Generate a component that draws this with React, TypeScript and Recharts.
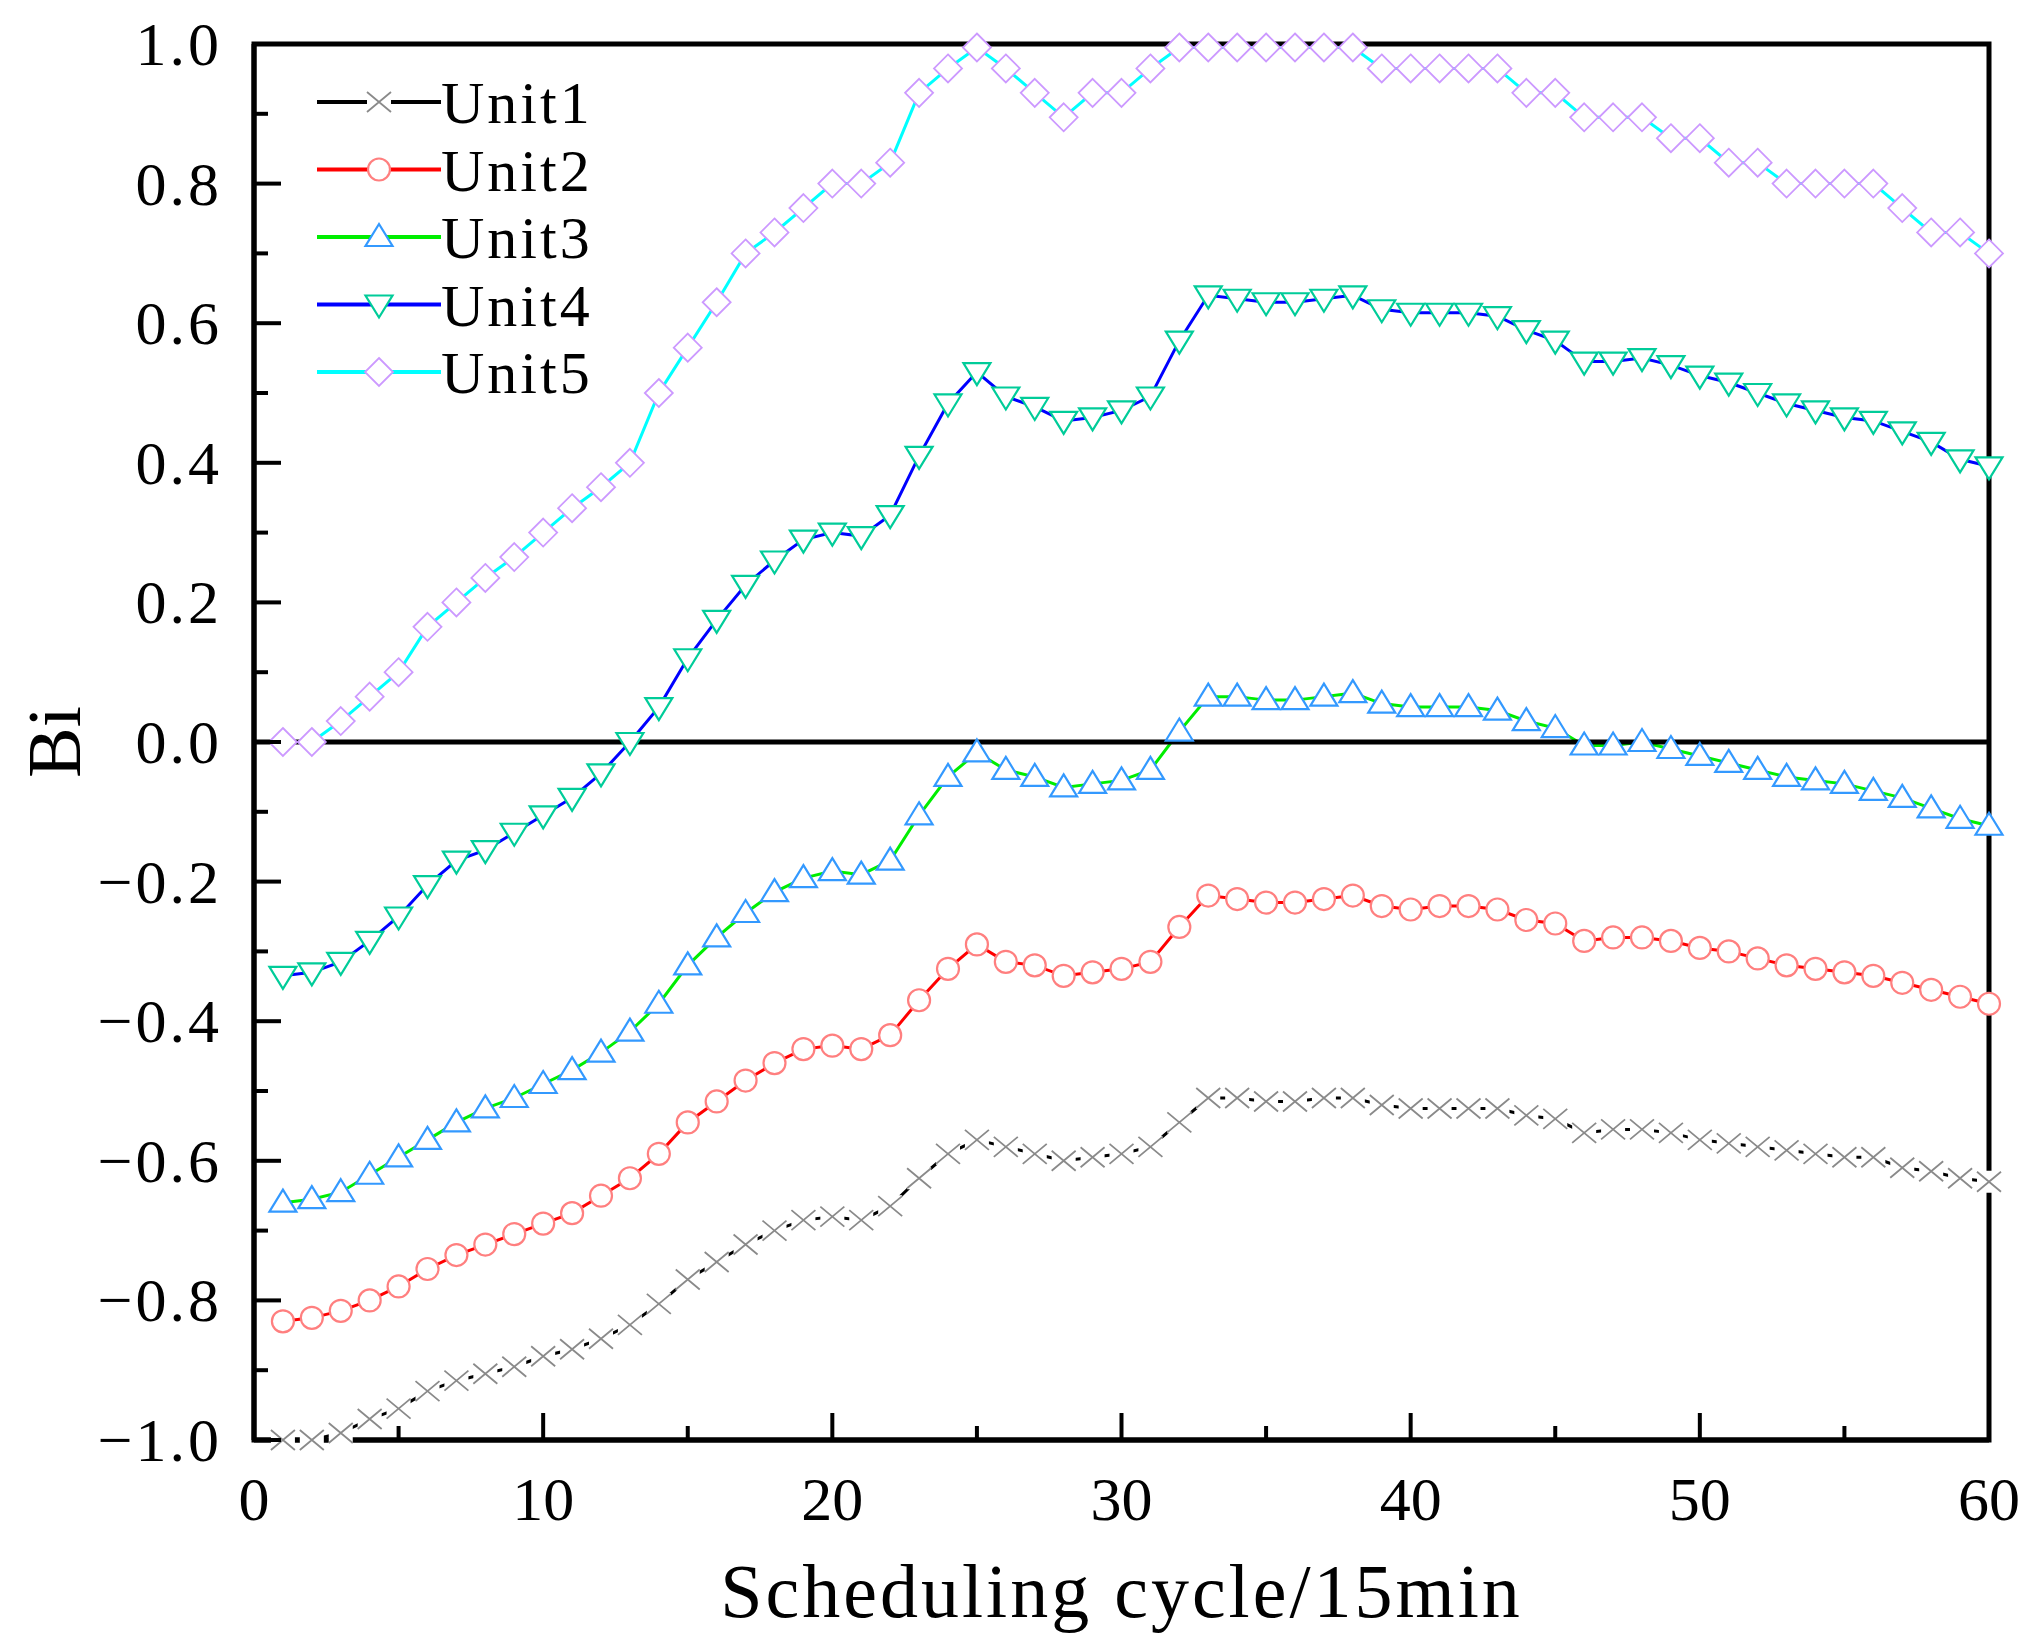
import React from 'react';
import { LineChart, Line, XAxis, YAxis, ReferenceLine, ReferenceArea, Legend, Label } from 'recharts';

const cycles = [1, 2, 3, 4, 5, 6, 7, 8, 9, 10, 11, 12, 13, 14, 15, 16, 17, 18, 19, 20, 21, 22, 23, 24, 25, 26, 27, 28, 29, 30, 31, 32, 33, 34, 35, 36, 37, 38, 39, 40, 41, 42, 43, 44, 45, 46, 47, 48, 49, 50, 51, 52, 53, 54, 55, 56, 57, 58, 59, 60];

const unit1 = [-1.0, -1.0, -0.99, -0.97, -0.955, -0.93, -0.915, -0.905, -0.895, -0.88, -0.87, -0.855, -0.835, -0.805, -0.77, -0.745, -0.72, -0.70, -0.685, -0.68, -0.685, -0.665, -0.625, -0.59, -0.57, -0.58, -0.59, -0.60, -0.595, -0.59, -0.58, -0.545, -0.51, -0.51, -0.515, -0.515, -0.51, -0.51, -0.52, -0.525, -0.525, -0.525, -0.525, -0.535, -0.54, -0.56, -0.555, -0.555, -0.56, -0.57, -0.575, -0.58, -0.585, -0.59, -0.595, -0.595, -0.61, -0.615, -0.625, -0.63];
const unit2 = [-0.83, -0.825, -0.815, -0.80, -0.78, -0.755, -0.735, -0.72, -0.705, -0.69, -0.675, -0.65, -0.625, -0.59, -0.545, -0.515, -0.485, -0.46, -0.44, -0.435, -0.44, -0.42, -0.37, -0.325, -0.29, -0.315, -0.32, -0.335, -0.33, -0.325, -0.315, -0.265, -0.22, -0.225, -0.23, -0.23, -0.225, -0.22, -0.235, -0.24, -0.235, -0.235, -0.24, -0.255, -0.26, -0.285, -0.28, -0.28, -0.285, -0.295, -0.30, -0.31, -0.32, -0.325, -0.33, -0.335, -0.345, -0.355, -0.365, -0.375];
const unit3 = [-0.66, -0.655, -0.645, -0.62, -0.595, -0.57, -0.545, -0.525, -0.51, -0.49, -0.47, -0.445, -0.415, -0.375, -0.32, -0.28, -0.245, -0.215, -0.195, -0.185, -0.19, -0.17, -0.105, -0.05, -0.015, -0.04, -0.05, -0.065, -0.06, -0.055, -0.04, 0.015, 0.065, 0.065, 0.06, 0.06, 0.065, 0.07, 0.055, 0.05, 0.05, 0.05, 0.045, 0.03, 0.02, -0.005, -0.005, 0.0, -0.01, -0.02, -0.03, -0.04, -0.05, -0.055, -0.06, -0.07, -0.08, -0.095, -0.11, -0.12];
const unit4 = [-0.335, -0.33, -0.315, -0.285, -0.25, -0.205, -0.17, -0.155, -0.13, -0.105, -0.08, -0.045, 0.0, 0.05, 0.12, 0.175, 0.225, 0.26, 0.29, 0.30, 0.295, 0.325, 0.41, 0.485, 0.53, 0.495, 0.48, 0.46, 0.465, 0.475, 0.495, 0.575, 0.64, 0.635, 0.63, 0.63, 0.635, 0.64, 0.62, 0.615, 0.615, 0.615, 0.61, 0.59, 0.575, 0.545, 0.545, 0.55, 0.54, 0.525, 0.515, 0.50, 0.485, 0.475, 0.465, 0.46, 0.445, 0.43, 0.405, 0.395];
const unit5 = [0.0, 0.0, 0.03, 0.065, 0.10, 0.165, 0.20, 0.235, 0.265, 0.30, 0.335, 0.365, 0.40, 0.50, 0.565, 0.63, 0.70, 0.73, 0.765, 0.80, 0.80, 0.83, 0.93, 0.965, 0.995, 0.965, 0.93, 0.895, 0.93, 0.93, 0.965, 0.995, 0.995, 0.995, 0.995, 0.995, 0.995, 0.995, 0.965, 0.965, 0.965, 0.965, 0.965, 0.93, 0.93, 0.895, 0.895, 0.895, 0.865, 0.865, 0.83, 0.83, 0.80, 0.80, 0.80, 0.80, 0.765, 0.73, 0.73, 0.70];

const seriesNames = ['Unit1', 'Unit2', 'Unit3', 'Unit4', 'Unit5'];
const xTicks = [0, 5, 10, 15, 20, 25, 30, 35, 40, 45, 50, 55, 60];
const xLabelTicks = [0, 10, 20, 30, 40, 50, 60];
const yTicks = [-1.0, -0.9, -0.8, -0.7, -0.6, -0.5, -0.4, -0.3, -0.2, -0.1, 0.0, 0.1, 0.2, 0.3, 0.4, 0.5, 0.6, 0.7, 0.8, 0.9, 1.0];
const yLabelTicks = [-1.0, -0.8, -0.6, -0.4, -0.2, 0.0, 0.2, 0.4, 0.6, 0.8, 1.0];

const data = cycles.map((c, i) => ({
  cycle: c,
  u1: unit1[i],
  u2: unit2[i],
  u3: unit3[i],
  u4: unit4[i],
  u5: unit5[i],
}));

const FONT = '"Liberation Serif", "DejaVu Serif", serif';

type Kind = 'cross' | 'circle' | 'up' | 'down' | 'diamond';

const styles: { key: string; line: string; marker: string; kind: Kind }[] = [
  { key: 'u1', line: '#000000', marker: '#8a8a8a', kind: 'cross' },
  { key: 'u2', line: '#ff0000', marker: '#ff7f7f', kind: 'circle' },
  { key: 'u3', line: '#00ee00', marker: '#3399ff', kind: 'up' },
  { key: 'u4', line: '#0000ff', marker: '#00cc99', kind: 'down' },
  { key: 'u5', line: '#00ffff', marker: '#cc99ff', kind: 'diamond' },
];

function Marker({ kind, cx, cy, color }: { kind: Kind; cx: number; cy: number; color: string }) {
  if (cx == null || cy == null || isNaN(cx) || isNaN(cy)) return <g />;
  switch (kind) {
    case 'cross':
      return (
        <g>
          <rect x={cx - 12} y={cy - 11} width={24} height={22} fill="#ffffff" />
          <path
            d={`M${cx - 12},${cy - 10}L${cx + 12},${cy + 10}M${cx - 12},${cy + 10}L${cx + 12},${cy - 10}`}
            stroke={color}
            strokeWidth={1.8}
            fill="none"
          />
        </g>
      );
    case 'circle':
      return <circle cx={cx} cy={cy} r={11} fill="#ffffff" stroke={color} strokeWidth={2.2} />;
    case 'up':
      return (
        <polygon
          points={`${cx},${cy - 13} ${cx + 13.5},${cy + 9} ${cx - 13.5},${cy + 9}`}
          fill="#ffffff"
          stroke={color}
          strokeWidth={2.2}
        />
      );
    case 'down':
      return (
        <polygon
          points={`${cx - 13.5},${cy - 9} ${cx + 13.5},${cy - 9} ${cx},${cy + 13}`}
          fill="#ffffff"
          stroke={color}
          strokeWidth={2.2}
        />
      );
    case 'diamond':
    default:
      return (
        <polygon
          points={`${cx},${cy - 14} ${cx + 14},${cy} ${cx},${cy + 14} ${cx - 14},${cy}`}
          fill="#ffffff"
          stroke={color}
          strokeWidth={1.8}
        />
      );
  }
}

const makeDot = (kind: Kind, color: string) => (props: any) => (
  <Marker key={`${kind}-${props.index}`} kind={kind} cx={props.cx} cy={props.cy} color={color} />
);

const fmt = (v: number) => {
  const s = Math.abs(v).toFixed(1);
  return v < -1e-9 ? `\u2212${s}` : s;
};

const XTick = (props: any) => {
  const { x, y, payload } = props;
  const v = payload.value;
  const major = xLabelTicks.includes(v);
  return (
    <g>
      <line x1={x} x2={x} y1={y} y2={y - (major ? 27 : 14)} stroke="#000" strokeWidth={4} />
      {major && (
        <text x={x} y={y + 80} textAnchor="middle" fontFamily={FONT} fontSize={62} fill="#000">
          {v}
        </text>
      )}
    </g>
  );
};

const YTick = (props: any) => {
  const { x, y, payload } = props;
  const v = payload.value;
  const major = yLabelTicks.some((t) => Math.abs(t - v) < 1e-6);
  return (
    <g>
      <line x1={x} x2={x + (major ? 27 : 14)} y1={y} y2={y} stroke="#000" strokeWidth={4} />
      {major && (
        <text x={x - 32} y={y + 21} textAnchor="end" fontFamily={FONT} fontSize={62} letterSpacing={3} fill="#000">
          {fmt(v)}
        </text>
      )}
    </g>
  );
};

const renderLegend = () => (
  <svg width={330} height={345} style={{ display: 'block', overflow: 'visible' }}>
    {styles.map((s, i) => {
      const cy = 34 + i * 67.5;
      return (
        <g key={s.key}>
          <line x1={0} x2={124} y1={cy} y2={cy} stroke={s.line} strokeWidth={4} />
          <Marker kind={s.kind} cx={62} cy={cy} color={s.marker} />
          <text x={124} y={cy + 21} fontFamily={FONT} fontSize={60} letterSpacing={3} fill="#000">
            {seriesNames[i]}
          </text>
        </g>
      );
    })}
  </svg>
);

const renderXLabel = (props: any) => {
  const vb = props.viewBox || {};
  const cx = (vb.x ?? 246) + (vb.width ?? 1735) / 2;
  const top = vb.y ?? 1432;
  return (
    <text x={cx} y={top + 177} textAnchor="middle" fontFamily={FONT} fontSize={76} letterSpacing={3} fill="#000">
      Scheduling cycle/15min
    </text>
  );
};

const renderYLabel = (props: any) => {
  const vb = props.viewBox || {};
  const cy = (vb.y ?? 36) + (vb.height ?? 1396) / 2;
  const bx = 72;
  return (
    <text
      x={bx}
      y={cy}
      transform={`rotate(-90 ${bx} ${cy})`}
      textAnchor="middle"
      fontFamily={FONT}
      fontSize={76}
      fill="#000"
    >
      Bi
    </text>
  );
};

export default function App() {
  return (
    <div style={{ width: 2024, height: 1632, background: '#fff' }}>
      <LineChart
        width={2024}
        height={1632}
        data={data}
        margin={{ top: 36, right: 43, bottom: 0, left: 0 }}
      >
        <XAxis
          dataKey="cycle"
          type="number"
          domain={[0, 60]}
          ticks={xTicks}
          interval={0}
          height={200}
          tickSize={0}
          tickMargin={0}
          tickLine={false}
          axisLine={{ stroke: '#000', strokeWidth: 5 }}
          tick={XTick}
        >
          <Label content={renderXLabel} />
        </XAxis>
        <YAxis
          type="number"
          domain={[-1, 1]}
          ticks={yTicks}
          interval={0}
          width={246}
          tickSize={0}
          tickMargin={0}
          tickLine={false}
          axisLine={{ stroke: '#000', strokeWidth: 5 }}
          tick={YTick}
        >
          <Label content={renderYLabel} />
        </YAxis>
        <ReferenceArea x1={0} x2={60} y1={-1} y2={1} fill="none" fillOpacity={0} stroke="#000" strokeWidth={5} />
        {styles.map((s) => (
          <Line
            key={s.key}
            type="linear"
            dataKey={s.key}
            name={seriesNames[styles.indexOf(s)]}
            stroke={s.line}
            strokeWidth={3}
            dot={makeDot(s.kind, s.marker)}
            activeDot={false}
            isAnimationActive={false}
          />
        ))}
        <ReferenceLine y={0} stroke="#000" strokeWidth={5} />
        <Legend
          layout="vertical"
          align="center"
          verticalAlign="middle"
          content={renderLegend}
          wrapperStyle={{ left: 309, top: 60, width: 330, height: 345 }}
        />
      </LineChart>
    </div>
  );
}
